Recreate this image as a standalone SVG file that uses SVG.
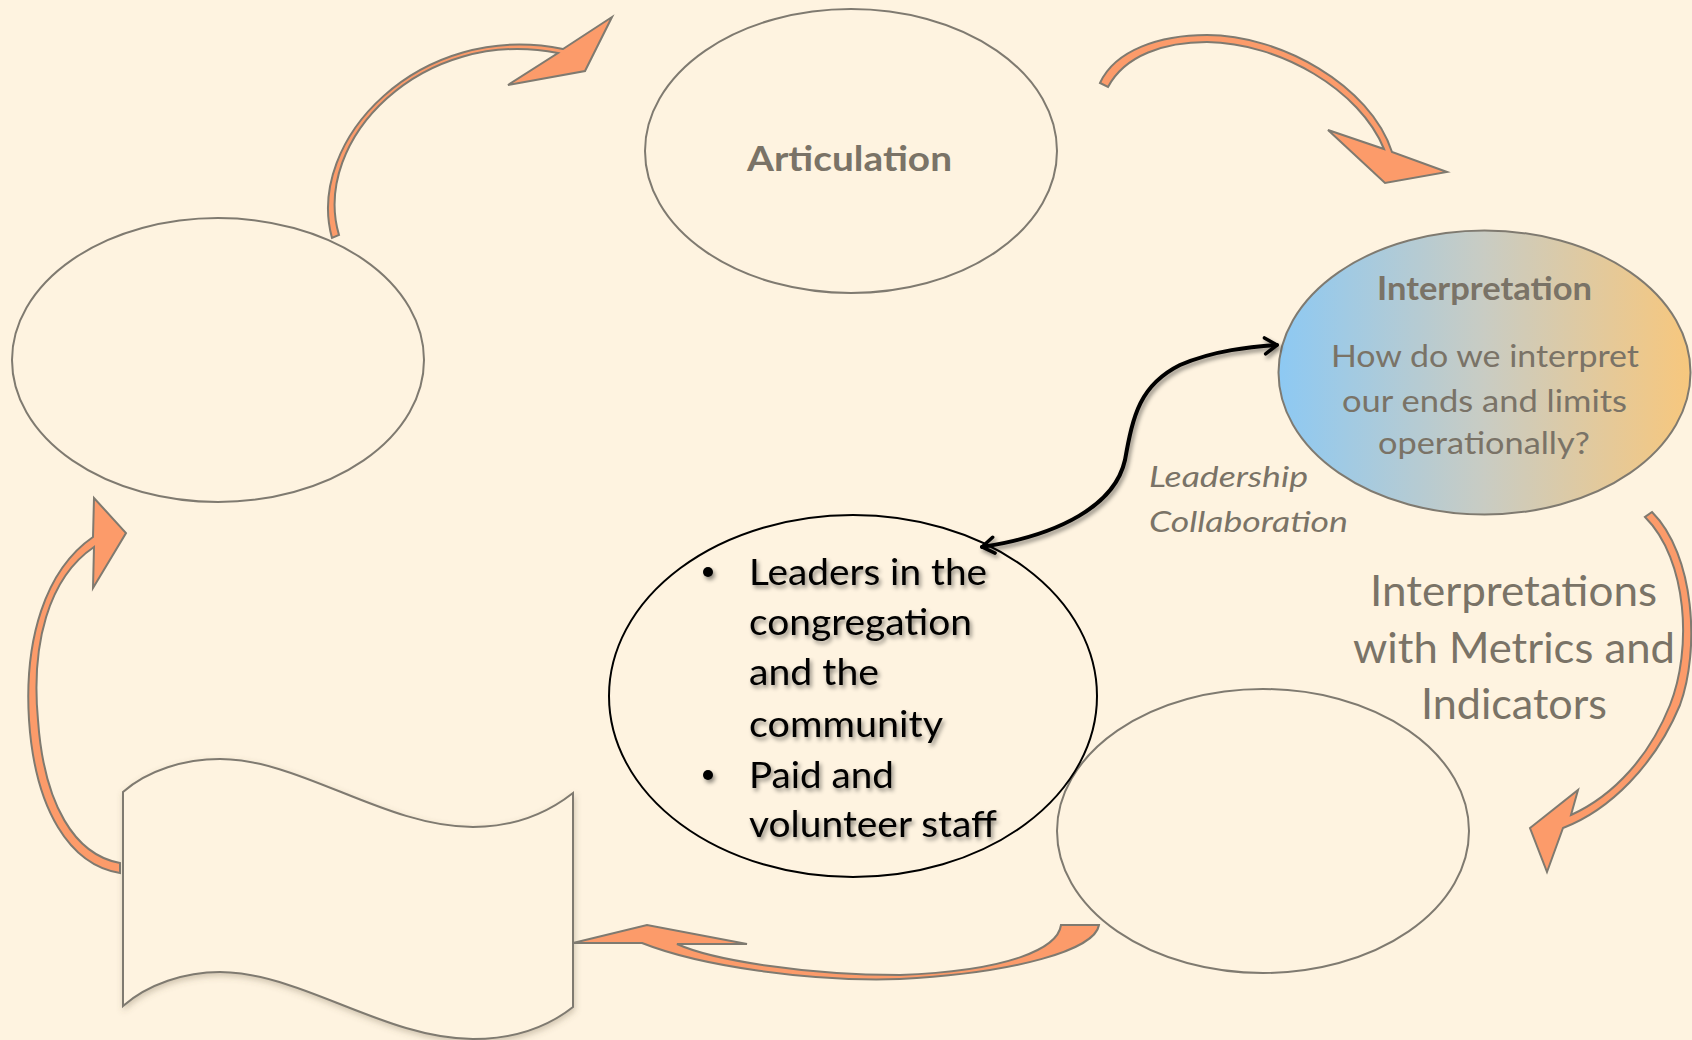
<svg xmlns="http://www.w3.org/2000/svg" width="1692" height="1040" viewBox="0 0 1692 1040">
<defs>
<style>
.bg{fill:#FEF3E0}
.node{fill:#FEF3E0;stroke:#7F7A70;stroke-width:2}
.arrow{fill:#FC9B6A;stroke:#7F7A70;stroke-width:2;stroke-linejoin:miter}
.t{font-family:Lato,"Open Sans","Liberation Sans",sans-serif;fill:#7A7367}
.b{font-weight:700}
.blk{font-family:Lato,"Open Sans","Liberation Sans",sans-serif;fill:#000;font-size:36px}
</style>
<linearGradient id="interp" x1="0" y1="0" x2="1" y2="0">
<stop offset="0" stop-color="#8DC9F3"/>
<stop offset="0.5" stop-color="#C9CCC3"/>
<stop offset="1" stop-color="#F7C77D"/>
</linearGradient>
<filter id="sh" x="-10%" y="-10%" width="130%" height="140%">
<feDropShadow dx="2" dy="3" stdDeviation="2" flood-color="#000" flood-opacity="0.45"/>
</filter>
<filter id="shs" x="-10%" y="-10%" width="130%" height="140%">
<feDropShadow dx="1" dy="3" stdDeviation="3" flood-color="#6b5a40" flood-opacity="0.3"/>
</filter>
<marker id="chev" viewBox="0 0 20 20" refX="16" refY="10" markerWidth="20" markerHeight="20" markerUnits="userSpaceOnUse" orient="auto-start-reverse">
<path d="M4,2 L16,10 L4,18" fill="none" stroke="#000" stroke-width="3.5" stroke-linecap="round" stroke-linejoin="round"/>
</marker>
</defs>
<rect class="bg" x="0" y="0" width="1692" height="1040"/>

<g id="node-left">
<ellipse class="node" cx="218" cy="360" rx="206" ry="142"/>
</g>
<g id="node-articulation">
<ellipse class="node" cx="851" cy="151" rx="206" ry="142"/>
<text class="t b" x="849.5" y="171" font-size="35" text-anchor="middle" textLength="205" lengthAdjust="spacingAndGlyphs">Articulation</text>
</g>
<g id="node-interpretation">
<ellipse cx="1484.5" cy="372.5" rx="206" ry="142" fill="url(#interp)" stroke="#7F7A70" stroke-width="2"/>
<text class="t b" x="1484.5" y="300" font-size="32" text-anchor="middle" textLength="215" lengthAdjust="spacingAndGlyphs">Interpretation</text>
<text class="t" x="1485" y="367" font-size="31" text-anchor="middle" textLength="308" lengthAdjust="spacingAndGlyphs">How do we interpret</text>
<text class="t" x="1484.5" y="412" font-size="31" text-anchor="middle" textLength="285" lengthAdjust="spacingAndGlyphs">our ends and limits</text>
<text class="t" x="1484" y="454" font-size="31" text-anchor="middle" textLength="212" lengthAdjust="spacingAndGlyphs">operationally?</text>
</g>
<g id="node-bottom-right">
<ellipse class="node" cx="1263" cy="831" rx="206" ry="142"/>
</g>
<g id="node-wave">
<path class="node" filter="url(#shs)" d="M123,792 C148,770 185,759 220,759 C300,759 385,827 473,827 C510,827 545,815 573,793 L573,1007 C545,1029 510,1039 473,1039 C385,1039 300,972 220,972 C185,972 148,984 123,1006 Z"/>
</g>
<g id="node-center">
<ellipse cx="853" cy="696" rx="244" ry="181" fill="#FEF3E0" stroke="#000" stroke-width="2"/>
<g filter="url(#sh)">
<circle cx="708" cy="572" r="5" fill="#000"/>
<circle cx="708" cy="775" r="5" fill="#000"/>
<text class="blk" x="749" y="585" textLength="238" lengthAdjust="spacingAndGlyphs">Leaders in the</text>
<text class="blk" x="749" y="635" textLength="223" lengthAdjust="spacingAndGlyphs">congregation</text>
<text class="blk" x="749" y="685" textLength="130" lengthAdjust="spacingAndGlyphs">and the</text>
<text class="blk" x="749" y="737" textLength="194" lengthAdjust="spacingAndGlyphs">community</text>
<text class="blk" x="749" y="788" textLength="145" lengthAdjust="spacingAndGlyphs">Paid and</text>
<text class="blk" x="749" y="837" textLength="248" lengthAdjust="spacingAndGlyphs">volunteer staff</text>
</g>
</g>
<g id="label-leadership">
<text class="t" x="1149" y="487" font-size="29" font-style="italic" textLength="159" lengthAdjust="spacingAndGlyphs">Leadership</text>
<text class="t" x="1149" y="532" font-size="29" font-style="italic" textLength="199" lengthAdjust="spacingAndGlyphs">Collaboration</text>
</g>
<g id="label-metrics">
<text class="t" x="1513.5" y="606" font-size="42" text-anchor="middle" textLength="287" lengthAdjust="spacingAndGlyphs">Interpretations</text>
<text class="t" x="1514" y="663" font-size="42" text-anchor="middle" textLength="322" lengthAdjust="spacingAndGlyphs">with Metrics and</text>
<text class="t" x="1514" y="719" font-size="42" text-anchor="middle" textLength="186" lengthAdjust="spacingAndGlyphs">Indicators</text>
</g>

<g id="connectors">
<path class="arrow" d="M332,238 C305,140 420,20 563,49 L612,17 L585,71 L508,85 L558,53 C422,26 311,140 339,235 Z"/>
<path class="arrow" d="M1100,83 C1115,50 1160,35 1207,35 C1280,35 1370,85 1392,152 L1447,172 L1385,183 L1328,130 L1384,149 C1360,90 1280,43 1207,42 C1165,42 1125,55 1108,87 Z"/>
<path class="arrow" d="M1652,512 C1695,555 1700,650 1680,705 C1655,765 1610,810 1563,828 L1547,872 L1530,828 L1578,790 L1571,815 C1615,795 1650,755 1670,705 C1692,650 1688,560 1645,517 Z"/>
<path class="arrow" d="M1099,925 C1095,950 1015,973 900,979 C810,982 700,966 642,943 L573,943 L647,925 L747,944 L677,944 C712,960 805,975 900,975 C1010,971 1058,948 1061,925 Z"/>
<path class="arrow" d="M120,873 C70,865 35,810 29,720 C24,640 45,570 93,537 L94,498 L126,533 L93,588 L94,547 C48,578 31,645 38,720 C44,805 75,855 120,863 Z"/>
<path d="M982,547 C1060,535 1115,505 1125,460 C1133,415 1140,385 1180,365 C1215,350 1250,347 1277,345" fill="none" stroke="#000" stroke-width="4" stroke-linecap="round" marker-start="url(#chev)" marker-end="url(#chev)" filter="url(#sh)"/>
</g>
</svg>
